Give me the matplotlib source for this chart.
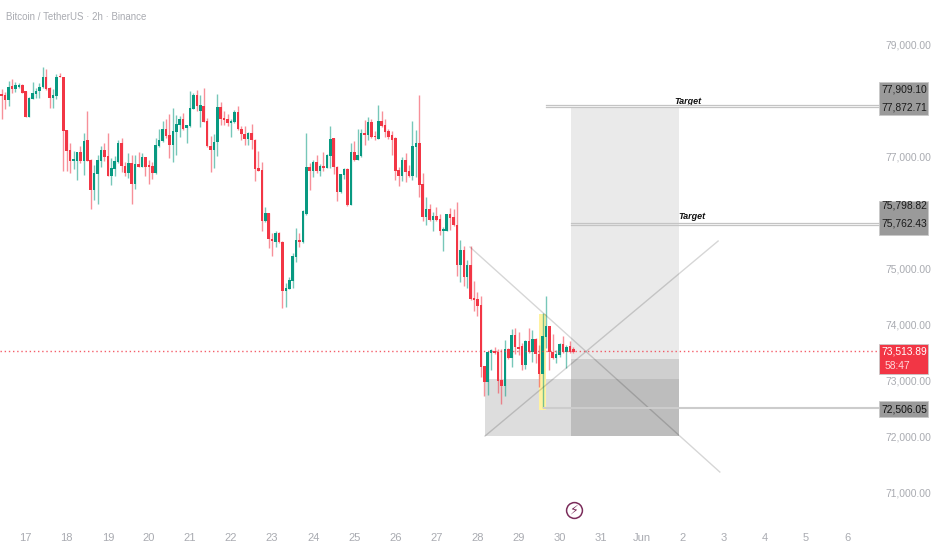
import matplotlib
matplotlib.use("Agg")
import matplotlib.pyplot as plt
from matplotlib.patches import Rectangle
from matplotlib.transforms import blended_transform_factory

title = "Bitcoin / TetherUS · 2h · Binance"
direction = ("RRGRGGRRGG" "GGGRRGGRRR" "RGGRGRRGGG" "RRGGGRRGRG" "RGRRRGGGRR"
             "GGGRGGGRGR" "RRGGRRRGGR" "RRGRRRRGRR" "GRRGGGGRGG" "RGRGRGGRRG"
             "GRGRGGRGRR" "GRRRRRRGRR" "GGRRGRGRRG" "GRRRGRGRRR" "RRGGRRRGRG"
             "RRRGRGRRGG" "RRGGRGRR")
highs = [78191,78149,78346,78369,78328,78310,78280,78167,78060,78328,
         78209,78298,78584,78554,78227,78191,78465,78488,78417,77465,
         77227,77090,77078,77179,77405,77804,76941,76840,77019,77179,
         77227,77417,76959,77001,77287,77316,76900,77049,77013,77019,
         77066,77049,76983,76930,76900,77316,77477,77626,77661,77751,
         77858,77727,77715,77763,77560,78167,78120,78179,78090,78209,
         77673,77358,77394,78102,77971,77798,77745,77661,77822,77893,
         77536,77536,77435,77572,77304,77090,76887,76084,75977,75620,
         75662,75638,75477,74727,74847,75263,75709,75620,76035,77405,
         76870,76929,77018,76858,77066,77036,77536,77328,76822,76679,
         76780,76780,77227,77274,77482,77482,77643,77691,77655,77447,
         77911,77804,77655,77476,77453,77334,76798,76977,77048,76840,
         77625,77465,78089,76691,76263,76144,75995,76096,75959,75727,
         75965,76066,76048,76173,75500,75393,75144,75399,74769,74578,
         74507,73251,73525,73549,73596,73561,73561,73715,73579,73912,
         73924,73864,73656,73715,73924,73894,73745,73626,74191,74507,
         73965,73823,73537,73656,73787,73626,73698,73585]
body_high = [78090,78090,78239,78250,78268,78274,78268,78155,78030,78120,
             78167,78239,78411,78411,78215,78090,78411,78417,78405,77459,
             77108,76930,77072,77072,77275,77281,76930,76697,76924,77102,
             77108,76995,76793,76912,77227,77227,76822,76876,76876,76858,
             76858,76983,76977,76816,76822,77191,77281,77483,77489,77382,
             77447,77572,77661,77661,77554,77858,78096,78096,77905,77893,
             77632,77185,77257,77876,77876,77679,77667,77631,77780,77780,
             77482,77393,77417,77417,77292,76786,76750,75977,75977,75525,
             75620,75632,75471,74638,74787,75210,75501,75501,76023,76804,
             76798,76893,76887,76822,76822,77018,77310,77316,76798,76673,
             76774,76768,77066,77066,77012,77405,77405,77613,77613,77346,
             77631,77625,77554,77441,77369,77322,76750,76929,76929,76733,
             77179,77227,77227,76501,76054,76054,75929,75929,75870,75680,
             75965,75959,75906,75763,75322,75316,75054,75054,74459,74441,
             74334,73245,73501,73537,73525,73501,73002,73549,73549,73805,
             73805,73597,73608,73698,73698,73733,73733,73466,73787,73965,
             73965,73507,73460,73644,73644,73597,73608,73549]
body_low = [78078,78000,78000,78191,78191,78233,78131,77703,77703,78018,
            78108,78167,78239,78191,78036,78036,78078,78405,77441,77090,
            76918,76918,76918,76918,76918,76918,76388,76388,76680,76912,
            76983,76650,76650,76769,76888,76822,76703,76703,76507,76507,
            76810,76810,76810,76810,76697,76691,77179,77263,77358,77197,
            77197,77435,77560,77483,77495,77542,77834,77899,77804,77614,
            77179,77108,77108,77251,77661,77649,77596,77583,77601,77476,
            77393,77298,77298,77286,76774,76739,75840,75840,75513,75477,
            75471,75459,74585,74585,74632,74775,75204,75459,75459,75959,
            76733,76733,76733,76733,76786,76792,77000,76798,76352,76352,
            76661,76120,76126,76929,76929,77000,77375,77375,77334,77334,
            77304,77536,77429,77346,77292,76739,76643,76643,76721,76643,
            76643,77155,76489,75918,75918,75858,75858,75858,75668,75668,
            75668,75894,75763,75061,75054,74846,74846,74447,74424,74316,
            73234,72972,72972,73489,73478,72984,72900,72900,73388,73388,
            73585,73561,73269,73269,73495,73495,73466,73109,73109,73775,
            73507,73388,73388,73448,73495,73495,73501,73501]
lows = [77655,77840,77899,78120,78137,78221,78120,77703,77703,78012,
        78030,78030,78221,78179,77864,77864,78024,78405,76739,76739,
        76703,76775,76578,76870,76668,76918,76055,76215,76144,76810,
        76918,76650,76489,76650,76870,76709,76644,76602,76144,76406,
        76810,76810,76644,76501,76596,76680,77167,77257,77316,76971,
        76900,77019,77346,77465,77227,77525,77834,77804,77525,77614,
        77167,76721,76793,77001,77554,77554,77536,77334,77595,77465,
        77286,77197,77197,77125,76560,76739,75668,75828,75352,75221,
        75382,75453,74293,74311,74626,74650,75114,75370,75453,75953,
        76388,76631,76703,76649,76733,76780,76780,76685,76197,76346,
        76590,76108,76120,76911,76929,76977,77197,77286,77328,77286,
        77298,77524,77346,77298,77018,76572,76471,76554,76542,76631,
        76572,76631,76263,75840,75769,75846,75668,75840,75590,75305,
        75662,75680,75751,74864,74757,74685,74638,74429,74233,74144,
        73061,72722,72740,73180,73466,72764,72567,72722,73370,73240,
        73466,73448,73180,73192,73489,73329,73299,72883,72496,73567,
        73180,73376,73299,73418,73478,73222,73478,73478]
price_ticks = [79000, 77000, 75000, 74000, 73000, 72000, 71000]
price_tick_labels = ["79,000.00", "77,000.00", "75,000.00", "74,000.00", "73,000.00", "72,000.00", "71,000.00"]
date_ticks = [7, 19, 31, 43, 55, 67, 79, 91, 103, 115, 127, 139, 151, 163, 175, 187, 199, 211, 223, 235, 247]
date_labels = ["17", "18", "19", "20", "21", "22", "23", "24", "25", "26", "27", "28", "29", "30", "31", "Jun", "2", "3", "4", "5", "6"]
target_top = [77909.10, 77872.71]
target_mid = [75798.82, 75762.43]
stop_level = 72506.05
last_price = 73513.89

UP, DOWN = "#089981", "#F23645"
GREY = "#a9abb1"
FONT = ["Liberation Sans", "DejaVu Sans"]
plt.rcParams["font.family"] = FONT
LABEL = 7.4

fig = plt.figure(figsize=(9.32, 5.5), dpi=100, facecolor="white")
ax = fig.add_axes([0, 25 / 550, 880 / 932, 525 / 550])
ax.set_xlim(-0.5, 256.6)
ax.set_ylim(70411, 79786)
for s in ax.spines.values():
    s.set_visible(False)
ax.yaxis.tick_right()
ax.set_yticks(price_ticks, price_tick_labels, color=GREY, fontsize=LABEL)
ax.set_xticks(date_ticks, date_labels, color=GREY, fontsize=8)
ax.tick_params(axis="both", length=0)
ax.tick_params(axis="y", pad=3.6)
ax.tick_params(axis="x", pad=6)

# position zones
ax.add_patch(Rectangle((166.3, 73375), 31.6, 77872 - 73375, fc="#eaeaea", ec="none", zorder=1))
ax.add_patch(Rectangle((166.3, 73018), 31.6, 73375 - 73018, fc="#cfcfcf", ec="none", zorder=1))
ax.add_patch(Rectangle((166.3, 72000), 31.6, 73018 - 72000, fc="#bdbdbd", ec="none", zorder=1))
ax.add_patch(Rectangle((141.2, 72000), 25.1, 73018 - 72000, fc="#dddddd", ec="none", zorder=1))
# highlight
ax.add_patch(Rectangle((157.1, 72464), 1.8, 74179 - 72464, fc="#fff2a0", ec="none", zorder=2))

# candles
xs = list(range(len(highs)))
for i in xs:
    c = UP if direction[i] == "G" else DOWN
    ax.vlines(i, lows[i], highs[i], color=c, lw=1.0, alpha=0.55, zorder=3)
    ax.bar(i, max(body_high[i] - body_low[i], 25), bottom=body_low[i], width=0.75, color=c, lw=0, zorder=4)

# drawings
ax.plot([136.8, 209.8], [75375, 71357], color="black", alpha=0.16, lw=1.0, zorder=5)
ax.plot([141.2, 209.3], [72000, 75482], color="black", alpha=0.16, lw=1.0, zorder=5)
for y in target_top:
    ax.plot([158.9, 256.6], [y, y], color="#c4c4c4", lw=0.9, zorder=5)
for y in target_mid:
    ax.plot([166.3, 256.6], [y, y], color="#c4c4c4", lw=0.9, zorder=5)
ax.plot([158.5, 256.6], [stop_level, stop_level], color="#cccccc", lw=1.5, zorder=5)
ax.axhline(last_price, color=DOWN, lw=1.0, ls=(0, (1, 2)), alpha=0.8, zorder=5)
ax.text(200.5, 77970, "Target", fontsize=6.5, style="italic", weight="bold", color="#111111", ha="center", va="center")
ax.text(201.7, 75915, "Target", fontsize=6.5, style="italic", weight="bold", color="#111111", ha="center", va="center")

# title
fig.text(6 / 932, 1 - 16.5 / 550, title, fontsize=7, color=GREY, ha="left", va="center")

# bolt marker
ax.scatter([167.2], [70679], s=130, facecolor="white", edgecolor="#7b2d5b", lw=1.1, zorder=6)
ax.text(167.2, 70679, "\u26A1", fontsize=9, color="#7b2d5b", ha="center", va="center", zorder=7, family="DejaVu Sans")

# price boxes right of the pane
tr = blended_transform_factory(ax.transAxes, ax.transData)
box_x = 1.0 - 1 / 880
box_w = 49 / 880
for lo, hi, col in [(77732, 78321, "#9a9a9a"), (75589, 76196, "#9a9a9a"), (73107, 73643, "#F23645"), (72339, 72625, "#9a9a9a")]:
    ax.add_patch(Rectangle((box_x, lo), box_w, hi - lo, transform=tr, fc=col, ec="#c9c9c9", lw=0.6, clip_on=False, zorder=8))
lx = 1.0 + 24.5 / 880
for y, txt, col in [(78180, "77,909.10", "#1c1c1c"), (77872, "77,872.71", "#1c1c1c"),
                    (76125, "75,798.82", "#1c1c1c"), (75790, "75,762.43", "#1c1c1c"),
                    (72482, "72,506.05", "#111111"),
                    (73513.89, "73,513.89", "white")]:
    ax.text(lx, y, txt, transform=tr, fontsize=LABEL, color=col, ha="center", va="center", clip_on=False, zorder=9)
ax.text(1.0 + 5 / 880, 73250, "58:47", transform=tr, fontsize=LABEL, color="#ffd7da", ha="left", va="center", clip_on=False, zorder=9)

fig.savefig("out.png", dpi=100, facecolor="white")
